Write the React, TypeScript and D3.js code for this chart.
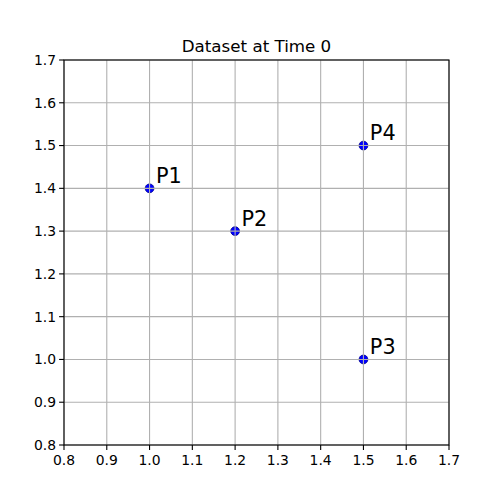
import React from 'react';
import * as d3 from 'd3';

const labels = ['P1', 'P2', 'P3', 'P4'];
const xs = [1.0, 1.2, 1.5, 1.5];
const ys = [1.4, 1.3, 1.0, 1.5];
const ticks = [0.8, 0.9, 1.0, 1.1, 1.2, 1.3, 1.4, 1.5, 1.6, 1.7];

const W = 500;
const H = 500;
const left = 64;
const right = 449;
const top = 60;
const bottom = 445;

export default function App() {
  const x = d3.scaleLinear().domain([0.8, 1.7]).range([left, right]);
  const y = d3.scaleLinear().domain([0.8, 1.7]).range([bottom, top]);
  const font = 'DejaVu Sans, sans-serif';

  return (
    <svg width={W} height={H} style={{ position: 'absolute', left: 0, top: 0 }} fontFamily={font}>
      <rect width={W} height={H} fill="#fff" />
      {xs.map((d, i) => (
        <circle key={i} cx={x(d)} cy={y(ys[i])} r={4.4} fill="#0000ff" stroke="#00008b" strokeWidth={0.8} />
      ))}
      {ticks.map((t) => (
        <g key={t}>
          <line x1={x(t)} x2={x(t)} y1={top} y2={bottom} stroke="#b0b0b0" strokeWidth={1.1} />
          <line x1={left} x2={right} y1={y(t)} y2={y(t)} stroke="#b0b0b0" strokeWidth={1.1} />
          <line x1={x(t)} x2={x(t)} y1={bottom} y2={bottom + 4.9} stroke="#000" strokeWidth={1.1} />
          <line x1={left - 4.9} x2={left} y1={y(t)} y2={y(t)} stroke="#000" strokeWidth={1.1} />
          <text x={x(t)} y={bottom + 20} textAnchor="middle" fontSize={13.9} fill="#000">
            {t.toFixed(1)}
          </text>
          <text x={left - 8} y={y(t)} dy="0.35em" textAnchor="end" fontSize={13.9} fill="#000">
            {t.toFixed(1)}
          </text>
        </g>
      ))}
      {labels.map((l, i) => (
        <text key={l} x={x(xs[i] + 0.015)} y={y(ys[i] + 0.013)} fontSize={20.8} fill="#000">
          {l}
        </text>
      ))}
      <rect x={left} y={top} width={right - left} height={bottom - top} fill="none" stroke="#000" strokeWidth={1.1} />
      <text x={(left + right) / 2} y={top - 8} textAnchor="middle" fontSize={16.7} fill="#000">
        Dataset at Time 0
      </text>
    </svg>
  );
}
